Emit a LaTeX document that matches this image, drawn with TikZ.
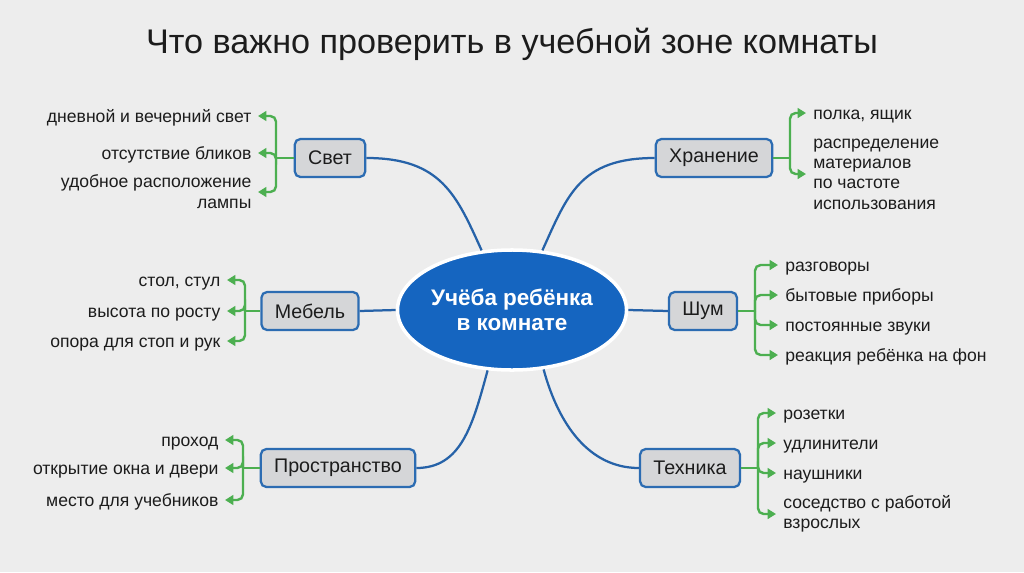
\documentclass[tikz,border=0pt]{standalone}
\usepackage{fontspec}
\setmainfont{Liberation Sans}
\usepackage{xcolor}
\usepackage{tikz}
\usetikzlibrary{shapes.geometric, arrows.meta, positioning, calc}
\definecolor{mybg}{RGB}{237,237,237}
\definecolor{myblue}{RGB}{21,101,192}
\definecolor{myline}{RGB}{38,98,168}
\definecolor{myframe}{RGB}{44,108,178}
\definecolor{mygreen}{RGB}{76,175,80}
\definecolor{hdrgray}{RGB}{213,214,216}
\definecolor{mydark}{RGB}{28,28,28}
\tikzset{
  catbox/.style={rectangle, draw=myframe, fill=hdrgray, rounded corners=4pt,
    line width=1.6pt, font=\fontsize{14}{17}\selectfont, text=mydark,
    inner xsep=9.5pt, minimum height=0.95cm},
  hubnode/.style={ellipse, draw=white, fill=myblue, line width=2.5pt,
    inner sep=0pt, minimum width=5.7cm, minimum height=3.0cm, text=white,
    align=center, font=\fontsize{16}{18}\selectfont\bfseries},
  leafL/.style={anchor=east, align=right, inner xsep=4.5pt,
    font=\fontsize{12.5}{14.8}\selectfont, text=mydark},
  leafR/.style={anchor=west, align=left, inner xsep=5pt,
    font=\fontsize{12.5}{14.5}\selectfont, text=mydark},
  oneline/.style={text height=9pt, text depth=0pt},
  spoke/.style={draw=myline, line width=1.6pt},
  twig/.style={draw=mygreen, line width=1.7pt},
  twigarrow/.style={twig, rounded corners=4pt, -{Triangle[length=6pt, width=7pt]}}
}

\begin{document}
\begin{tikzpicture}[x=0.025cm, y=-0.025cm]
  \fill[mybg] (0,0) rectangle (1024,572);
  \useasboundingbox (0,0) rectangle (1024,572);

  % Title
  \node[font=\fontsize{24.3}{29}\selectfont, text=mydark] (title) at (512,44) {Что важно проверить в учебной зоне комнаты};

  % Centre
  \node[hubnode] (study) at (512,310) {Учёба ребёнка\\в комнате};

  % Categories (Left)
  \node[catbox] (svet) at (330,158) {Свет};
  \node[catbox] (mebel) at (310,311) {Мебель};
  \node[catbox] (prostr) at (338,468) {Пространство};

  % Categories (Right)
  \node[catbox] (hran) at (714,158) {Хранение};
  \node[catbox] (shum) at (703,311) {Шум};
  \node[catbox] (tech) at (690,468) {Техника};

  % Spokes
  \draw[spoke] (svet.east) .. controls +(75,0) and +(-25,-55) .. (study.117);
  \draw[spoke] (hran.west) .. controls +(-75,0) and +(25,-55) .. (study.63);
  \draw[spoke] (mebel.east) -- (study.west);
  \draw[spoke] (study.east) -- (shum.west);
  \draw[spoke] (prostr.east) .. controls +(45,0) and +(-15,55) .. (study.248);
  \draw[spoke] (tech.west) .. controls +(-50,0) and +(15,55) .. (study.298);

  % Svet leaves
  \node[leafL, oneline] (sv1) at (258,116) {дневной и вечерний свет};
  \node[leafL, oneline] (sv2) at (258,153) {отсутствие бликов};
  \node[leafL] (sv3) at (258,192) {удобное расположение\\лампы};
  \coordinate (svfork) at (276,158);
  \draw[twig] (svet.west) -- (svfork);
  \foreach \leaf in {sv1,sv2,sv3} \draw[twigarrow] (svfork) |- (\leaf.east);

  % Mebel leaves
  \node[leafL, oneline] (mb1) at (227,280) {стол, стул};
  \node[leafL, oneline] (mb2) at (227,311) {высота по росту};
  \node[leafL, oneline] (mb3) at (227,341) {опора для стоп и рук};
  \coordinate (mbfork) at (245,311);
  \draw[twig] (mebel.west) -- (mbfork);
  \foreach \leaf in {mb1,mb2,mb3} \draw[twigarrow] (mbfork) |- (\leaf.east);

  % Prostranstvo leaves
  \node[leafL, oneline] (pr1) at (225,440) {проход};
  \node[leafL, oneline] (pr2) at (225,468) {открытие окна и двери};
  \node[leafL, oneline] (pr3) at (225,500) {место для учебников};
  \coordinate (prfork) at (243,468);
  \draw[twig] (prostr.west) -- (prfork);
  \foreach \leaf in {pr1,pr2,pr3} \draw[twigarrow] (prfork) |- (\leaf.east);

  % Hranenie leaves
  \node[leafR, oneline] (hr1) at (806,113) {полка, ящик};
  \node[leafR] (hr2) at (806,174) {распределение\\материалов\\по частоте\\использования};
  \coordinate (hrfork) at (790,158);
  \draw[twig] (hran.east) -- (hrfork);
  \foreach \leaf in {hr1,hr2} \draw[twigarrow] (hrfork) |- (\leaf.west);

  % Shum leaves
  \node[leafR, oneline] (sh1) at (778,265) {разговоры};
  \node[leafR, oneline] (sh2) at (778,295) {бытовые приборы};
  \node[leafR, oneline] (sh3) at (778,325) {постоянные звуки};
  \node[leafR, oneline] (sh4) at (778,355) {реакция ребёнка на фон};
  \coordinate (shfork) at (755,311);
  \draw[twig] (shum.east) -- (shfork);
  \foreach \leaf in {sh1,sh2,sh3,sh4} \draw[twigarrow] (shfork) |- (\leaf.west);

  % Tehnika leaves
  \node[leafR, oneline] (th1) at (776,413) {розетки};
  \node[leafR, oneline] (th2) at (776,443) {удлинители};
  \node[leafR, oneline] (th3) at (776,473) {наушники};
  \node[leafR] (th4) at (776,514) {соседство с работой\\взрослых};
  \coordinate (thfork) at (758,468);
  \draw[twig] (tech.east) -- (thfork);
  \foreach \leaf in {th1,th2,th3,th4} \draw[twigarrow] (thfork) |- (\leaf.west);
\end{tikzpicture}
\end{document}
